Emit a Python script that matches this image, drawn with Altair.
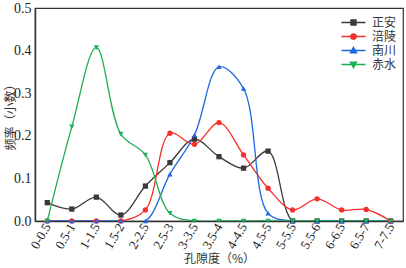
import altair as alt
import pandas as pd

categories = ["0-0.5", "0.5-1", "1-1.5", "1.5-2", "2-2.5", "2.5-3", "3-3.5", "3.5-4",
              "4-4.5", "4.5-5", "5-5.5", "5.5-6", "6-6.5", "6.5-7", "7-7.5"]
series_names = ["正安", "涪陵", "南川", "赤水"]
zhengan = [0.043, 0.028, 0.056, 0.014, 0.082, 0.137, 0.192, 0.151, 0.124, 0.164, 0, 0, 0, 0, 0]
fuling = [0, 0, 0, 0, 0.026, 0.206, 0.180, 0.231, 0.155, 0.077, 0.026, 0.052, 0.026, 0.027, 0]
nanchuan = [0, 0, 0, 0, 0, 0.110, 0.202, 0.362, 0.311, 0.018, 0, 0, 0, 0, 0]
chishui = [0, 0.221, 0.407, 0.204, 0.155, 0.018, 0, 0, 0, 0, 0, 0, 0, 0, 0]
colors = ["#3a3a3a", "#f5302c", "#1f66e0", "#1fae57"]

all_values = [zhengan, fuling, nanchuan, chishui]
rows = []
for name, vals in zip(series_names, all_values):
    for c, v in zip(categories, vals):
        rows.append({"range": c, "freq": v, "series": name})
df = pd.DataFrame(rows)

marker_shapes = ["square", "circle", "triangle-up", "triangle-down"]
legend_paths = [
    "M-1.85,0H1.85M-0.38,-0.38H0.38V0.38H-0.38Z",
    "M-1.85,0H1.85M-0.4,0A0.4,0.4,0,1,1,0.4,0A0.4,0.4,0,1,1,-0.4,0Z",
    "M-1.85,0H1.85M0,-0.45L0.45,0.33H-0.45Z",
    "M-1.85,0H1.85M0,0.45L0.45,-0.33H-0.45Z",
]

names_js = "[" + ",".join("'%s'" % n for n in series_names) + "]"
paths_js = "[" + ",".join("'%s'" % p for p in legend_paths) + "]"
colors_js = "[" + ",".join("'%s'" % c for c in colors) + "]"
idx = "indexof(%s, datum.value)" % names_js

serif = "Liberation Serif"
cjk = "Noto Sans CJK SC"

x_enc = alt.X("range:O", sort=categories,
              scale=alt.Scale(type="point", padding=0.5),
              axis=alt.Axis(title="孔隙度（%）", labelAngle=-60, labelAlign="right",
                            labelBaseline="middle", labelPadding=3, ticks=False,
                            labelFont=serif, labelFontSize=13, titleFont=cjk,
                            titleY=37, titleBaseline="middle"))
y_enc = alt.Y("freq:Q", scale=alt.Scale(domain=[0, 0.5]),
              axis=alt.Axis(title="频率（小数）", values=[0, 0.1, 0.2, 0.3, 0.4, 0.5],
                            format=".1f", grid=False, ticks=False, labelPadding=4,
                            labelFont=serif, labelFontSize=14, titleFont=cjk,
                            titleX=-25, titleY=106, titleAlign="center",
                            titleBaseline="middle", titleAngle=-90))

legend = alt.Legend(
    title=None, orient="none", legendX=311, legendY=7,
    symbolSize=169, symbolStrokeWidth=1.5,
    symbolType=alt.ExprRef(expr="%s[%s]" % (paths_js, idx)),
    symbolFillColor=alt.ExprRef(expr="%s[%s]" % (colors_js, idx)),
    symbolStrokeColor=alt.ExprRef(expr="%s[%s]" % (colors_js, idx)),
    labelFont=cjk, labelFontSize=12, labelColor="#333333",
    labelOffset=11, rowPadding=-1,
)

color_scale = alt.Scale(domain=series_names, range=colors)

lines = alt.Chart(df).mark_line(interpolate="catmull-rom", strokeWidth=1.3, clip=True).encode(
    x=x_enc, y=y_enc,
    color=alt.Color("series:N", sort=series_names, scale=color_scale, legend=legend))

point_layers = []
for name, shp, col in zip(series_names, marker_shapes, colors):
    point_layers.append(
        alt.Chart(df).transform_filter(alt.datum.series == name)
        .mark_point(filled=True, size=28, opacity=1, shape=shp, color=col)
        .encode(x=x_enc, y=y_enc)
    )

chart = alt.layer(lines, *point_layers).properties(
    width=368, height=213,
    autosize=alt.AutoSizeParams(type="none"),
    padding={"left": 35, "top": 8, "right": 3, "bottom": 47},
    background="white",
).configure(font=serif).configure_view(stroke="#333333", strokeWidth=1.2).configure_axis(
    labelFont=serif, labelColor="#222222", titleFontSize=12, titleFontWeight="normal",
    titleColor="#333333", domainColor="#333333", domainWidth=1.5,
)

chart.save("out.html", embed_options={"renderer": "svg", "actions": False})
